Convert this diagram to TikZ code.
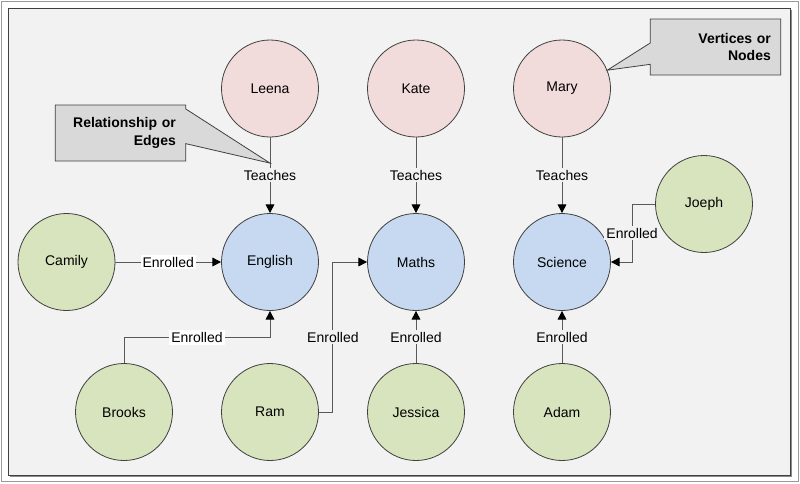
\documentclass[tikz,border=0pt]{standalone}
\usepackage{fontspec}
\setmainfont{Liberation Sans}
\usetikzlibrary{arrows.meta,shapes.callouts,calc}

\definecolor{paper}{HTML}{F2F2F2}
\definecolor{teacher}{HTML}{F2DCDB}
\definecolor{subject}{HTML}{C6D9F1}
\definecolor{student}{HTML}{D7E4BD}
\definecolor{note}{HTML}{D9D9D9}

\begin{document}
\begin{tikzpicture}[x=0.75pt,y=-0.75pt,
  vertex/.style={circle,draw=black!75,line width=0.6pt,minimum size=72.75pt,inner sep=0pt,font=\fontsize{10.5}{12}\selectfont},
  edge/.style={draw=black!65,line width=0.75pt,-{Triangle[length=6.5pt,width=6.5pt,color=black]}},
  lbl/.style={fill=paper,inner sep=1.5pt,font=\fontsize{10.5}{12}\selectfont},
  hlbl/.style={lbl,fill=white},
  remark/.style={rectangle callout,draw=black!75,fill=note,line width=0.6pt,font=\fontsize{10.5}{13}\selectfont\bfseries,
    align=right,text width=83pt,inner xsep=7.5pt,minimum height=42pt}]
\useasboundingbox (0,0) rectangle (800,483);
\draw[black!40,line width=0.75pt] (1.5,1.5) rectangle (798.5,481.5);
\fill[black!45] (10,10) rectangle (792,477);
\draw[black!75,fill=paper,line width=0.75pt] (8,8) rectangle (790,475);
% teachers
\node[vertex,fill=teacher] (Leena) at (270,88.5) {Leena};
\node[vertex,fill=teacher] (Kate) at (416,88.5) {Kate};
\node[vertex,fill=teacher] (Mary) at (562,88.5) {Mary};
% subjects
\node[vertex,fill=subject] (English) at (270,262) {English};
\node[vertex,fill=subject] (Maths) at (416,262) {Maths};
\node[vertex,fill=subject] (Science) at (562,262) {Science};
% students
\node[vertex,fill=student] (Camily) at (66.5,262) {Camily};
\node[vertex,fill=student] (Joeph) at (704,204) {Joeph};
\node[vertex,fill=student] (Brooks) at (124,412) {Brooks};
\node[vertex,fill=student] (Ram) at (270,412) {Ram};
\node[vertex,fill=student] (Jessica) at (416,412) {Jessica};
\node[vertex,fill=student] (Adam) at (562,412) {Adam};
% edges
\draw[edge] (Leena) -- node[lbl]{Teaches} (English);
\draw[edge] (Kate) -- node[lbl]{Teaches} (Maths);
\draw[edge] (Mary) -- node[lbl]{Teaches} (Science);
\draw[edge] (Camily) -- node[hlbl]{Enrolled} (English);
\draw[edge] (Brooks.north) -- ++(0,-25.5) -| node[hlbl,pos=0.25]{Enrolled} (English.south);
\draw[edge] (Ram.east) -- ++(14,0) |- node[lbl,pos=0.25]{Enrolled} (Maths.west);
\draw[edge] (Jessica) -- node[lbl]{Enrolled} (Maths);
\draw[edge] (Adam) -- node[lbl]{Enrolled} (Science);
\draw[edge] (Joeph.west) -- ++(-23,0) |- node[lbl,pos=0.25]{Enrolled} (Science.east);
% callouts
\coordinate (edgeTip) at ($(Leena)!0.43!(English)$);
\node[remark,callout absolute pointer={(edgeTip)},callout pointer width=26pt] (edgeNote) at (120.5,133) {Relationship or\\Edges};
\node[remark,callout absolute pointer={(Mary.22)},callout pointer width=16pt] (vertexNote) at (715.5,47) {Vertices or\\Nodes};
\end{tikzpicture}
\end{document}
